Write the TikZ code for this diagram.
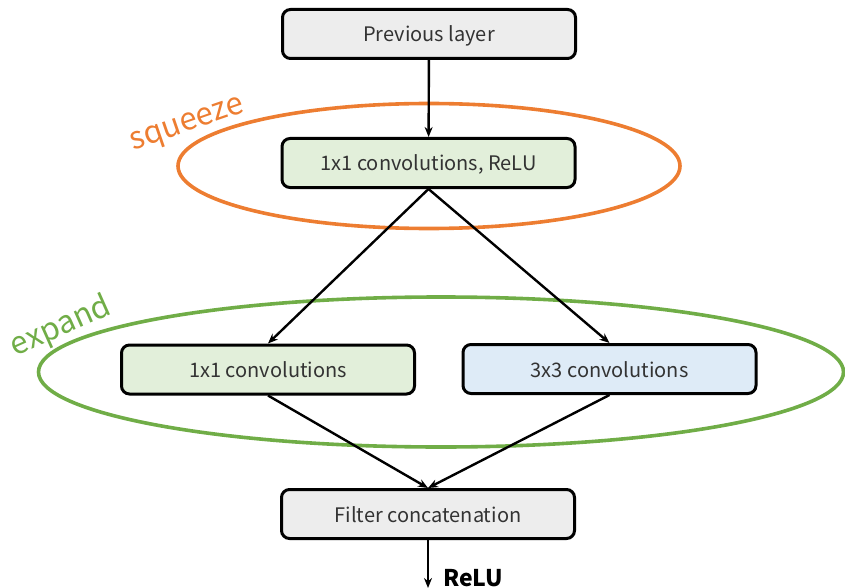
\documentclass[tikz,border=0pt]{standalone}
\usepackage{fontspec}
\setmainfont{Noto Sans CJK SC}
\usetikzlibrary{arrows.meta,shapes.geometric}
\definecolor{boxgray}{HTML}{EDEDED}
\definecolor{boxgreen}{HTML}{E2EFDA}
\definecolor{boxblue}{HTML}{DEEBF7}
\definecolor{sqorange}{HTML}{ED7D31}
\definecolor{exgreen}{HTML}{70AD47}
\definecolor{txt}{HTML}{333333}
\tikzset{
  layer/.style={draw=black, line width=3pt, rounded corners=8pt,
    minimum width=293pt, minimum height=49pt, inner sep=0pt,
    text height=17pt, text depth=1pt,
    text=txt, font=\fontsize{20}{23}\selectfont},
  flow/.style={line width=2.4pt, -{Stealth[length=10pt,width=8pt]}},
  group/.style={ellipse, draw, line width=3.6pt, inner sep=0pt},
  grouplabel/.style={font=\fontsize{31}{35}\selectfont, inner sep=0pt}
}
\begin{document}
\begin{tikzpicture}[x=1pt,y=-1pt]
\useasboundingbox (0,0) rectangle (845,588);
% grouping ellipses
\node[group, draw=sqorange, minimum width=502pt, minimum height=125pt] (sqring) at (429,166) {};
\node[group, draw=exgreen, minimum width=805pt, minimum height=150pt] (exring) at (441,372) {};
\node[grouplabel, text=sqorange, rotate=19] (sqlabel) at (188,126) {squeeze};
\node[grouplabel, text=exgreen, rotate=24] (exlabel) at (61,327) {expand};
% layers
\node[layer, fill=boxgray]  (prev)   at (429,34)  {Previous layer};
\node[layer, fill=boxgreen] (squeeze) at (428.5,163) {1x1 convolutions, ReLU};
\node[layer, fill=boxgreen] (e1)     at (268,369.5) {1x1 convolutions};
\node[layer, fill=boxblue]  (e3)     at (609.5,369) {3x3 convolutions};
\node[layer, fill=boxgray]  (concat) at (428,514) {Filter concatenation};
\coordinate (out) at (428,588);
% connections
\draw[flow] (prev) -- (squeeze);
\draw[flow] (squeeze.south) -- (e1.north);
\draw[flow] (squeeze.south) -- (e3.north);
\draw[flow] (e1.south) -- (concat.north);
\draw[flow] (e3.south) -- (concat.north);
\draw[flow] (concat.south) -- (out) node[pos=0.8, right=14pt, inner sep=0pt,
  font=\fontsize{23}{26}\selectfont\bfseries, text=black] (relu) {ReLU};
\end{tikzpicture}
\end{document}
